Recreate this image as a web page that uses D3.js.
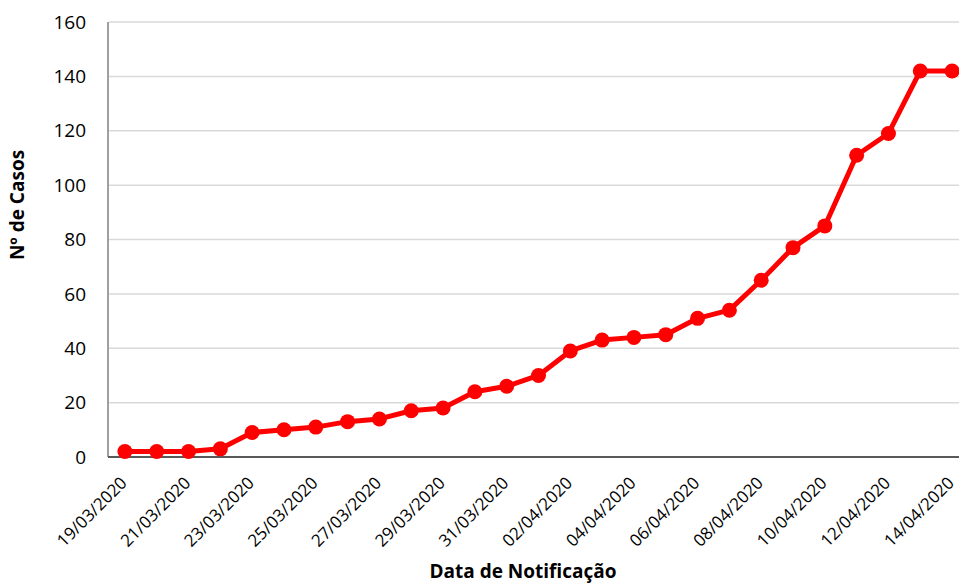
<!DOCTYPE html>
<html>
<head>
<meta charset="utf-8">
<script src="https://cdn.jsdelivr.net/npm/d3@7"></script>
<style>
  body { margin: 0; background: #fff; }
  svg { display: block; font-family: "Open Sans", sans-serif; }
</style>
</head>
<body>
<div id="chart"></div>
<script>
const dates = ["19/03/2020", "20/03/2020", "21/03/2020", "22/03/2020", "23/03/2020", "24/03/2020",
  "25/03/2020", "26/03/2020", "27/03/2020", "28/03/2020", "29/03/2020", "30/03/2020", "31/03/2020",
  "01/04/2020", "02/04/2020", "03/04/2020", "04/04/2020", "05/04/2020", "06/04/2020", "07/04/2020",
  "08/04/2020", "09/04/2020", "10/04/2020", "11/04/2020", "12/04/2020", "13/04/2020", "14/04/2020"];
const cases = [2, 2, 2, 3, 9, 10, 11, 13, 14, 17, 18, 24, 26, 30, 39, 43, 44, 45, 51, 54, 65, 77, 85, 111, 119, 142, 142];
const yTicks = [0, 20, 40, 60, 80, 100, 120, 140, 160];
const xTitle = "Data de Notificação";
const yTitle = "Nº de Casos";

const width = 959, height = 585;
const margin = {top: 22, right: -9, bottom: 128, left: 109};

const svg = d3.select("#chart").append("svg")
    .attr("width", width)
    .attr("height", height);

const x = d3.scaleBand()
    .domain(dates)
    .range([margin.left, width - margin.right]);

const y = d3.scaleLinear()
    .domain([0, 160])
    .range([height - margin.bottom, margin.top]);

// gridlines
svg.append("g")
    .selectAll("line")
    .data(yTicks.filter(d => d > 0))
    .enter()
    .append("line")
    .attr("x1", margin.left)
    .attr("x2", width)
    .attr("y1", d => y(d))
    .attr("y2", d => y(d))
    .attr("stroke", "#d9d9d9")
    .attr("stroke-width", 1.5);

// y axis labels
svg.append("g")
    .selectAll("text")
    .data(yTicks)
    .enter()
    .append("text")
    .attr("x", margin.left - 23)
    .attr("y", d => y(d))
    .attr("dy", "0.35em")
    .attr("text-anchor", "end")
    .style("font-size", "19px")
    .attr("fill", "#000")
    .text(d => d);

// axis lines
svg.append("line")
    .attr("x1", margin.left - 1)
    .attr("x2", margin.left - 1)
    .attr("y1", y(160))
    .attr("y2", y(0))
    .attr("stroke", "#7f7f7f")
    .attr("stroke-width", 1.5);

svg.append("line")
    .attr("x1", margin.left - 1)
    .attr("x2", width)
    .attr("y1", y(0))
    .attr("y2", y(0))
    .attr("stroke", "#595959")
    .attr("stroke-width", 2);

// x labels, every other date
const cx = d => x(d) + x.bandwidth() / 2;

svg.append("g")
    .selectAll("text")
    .data(dates.filter((d, i) => i % 2 === 0))
    .enter()
    .append("text")
    .attr("text-anchor", "end")
    .attr("transform", d => `translate(${cx(d) + 3},${y(0) + 27}) rotate(-45)`)
    .style("font-size", "17px")
    .attr("fill", "#000")
    .text(d => d);

// line + markers
const line = d3.line()
    .x((d, i) => cx(dates[i]))
    .y(d => y(d));

svg.append("path")
    .datum(cases)
    .attr("fill", "none")
    .attr("stroke", "#ff0000")
    .attr("stroke-width", 5)
    .attr("stroke-linejoin", "round")
    .attr("d", line);

svg.append("g")
    .selectAll("circle")
    .data(cases)
    .enter()
    .append("circle")
    .attr("cx", (d, i) => cx(dates[i]))
    .attr("cy", d => y(d))
    .attr("r", 7.5)
    .attr("fill", "#ff0000");

// axis titles
svg.append("text")
    .attr("x", 523)
    .attr("y", 578)
    .attr("text-anchor", "middle")
    .style("font-size", "19px")
    .style("font-weight", "bold")
    .text(xTitle);

svg.append("text")
    .attr("transform", `translate(24,205) rotate(-90)`)
    .attr("text-anchor", "middle")
    .style("font-size", "19px")
    .style("font-weight", "bold")
    .text(yTitle);
</script>
</body>
</html>
